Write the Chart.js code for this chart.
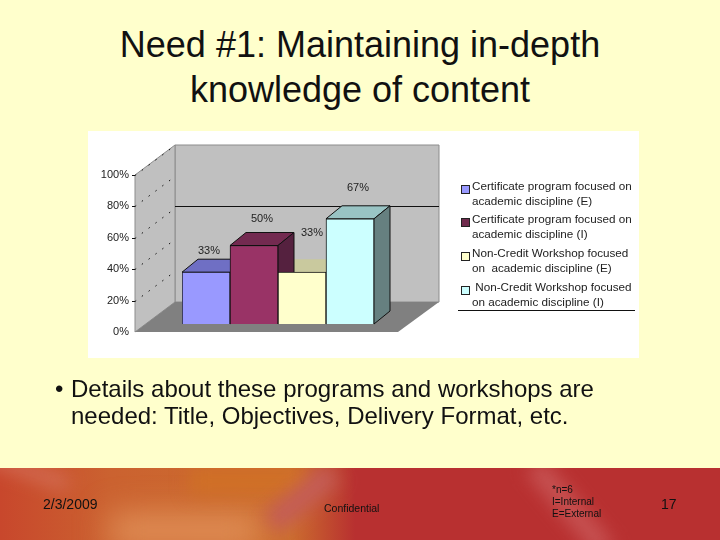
<!DOCTYPE html>
<html>
<head>
<meta charset="utf-8">
<script src="https://cdn.jsdelivr.net/npm/chart.js@4"></script>
<style>
    html, body { margin: 0; padding: 0; }
    body { width: 720px; height: 540px; background: #ffffcc; position: relative; overflow: hidden;
           font-family: "Liberation Sans", Arial, sans-serif; color: #111; }
    .abs { position: absolute; white-space: pre; }
    #title { left: 0; width: 720px; top: 23px; text-align: center; font-size: 36px; line-height: 44.5px; }
    #panel { left: 88px; top: 131px; width: 551px; height: 227px; background: #fff; }
    #chart { position: absolute; left: 0; top: 0; }
    .legend-text { font-size: 11.7px; line-height: 15px; color: #222; }
    .swatch { width: 7px; height: 7px; border: 1px solid #222; }
    #legend-rule { left: 458px; top: 310px; width: 177px; height: 1px; background: #111; }
    #bullet-dot { left: 55px; top: 375px; font-size: 24px; line-height: 27px; }
    #bullet { left: 71px; top: 375px; font-size: 24px; line-height: 27px; }
    #footer { left: 0; top: 468px; width: 720px; height: 72px; overflow: hidden;
        background: linear-gradient(90deg, #c8472c 0px, #cb6230 110px, #cc6e2e 290px, #b83030 355px, #b83030 720px); }
    .streak { position: absolute; filter: blur(9px); }
    .foot { font-size: 14px; }
    .small { font-size: 10px; line-height: 12px; }
</style>
</head>
<body>
<div id="footer" class="abs">
    <div class="streak" style="left:-20px;top:-5px;width:90px;height:12px;background:#d4705a;transform:rotate(20deg)"></div>
    <div class="streak" style="filter:blur(16px);left:110px;top:46px;width:150px;height:34px;background:#e09058;"></div>
    <div class="streak" style="left:190px;top:0;width:120px;height:26px;background:#d07026;"></div>
    <div class="streak" style="left:290px;top:-10px;width:24px;height:80px;background:#c45c58;transform:rotate(50deg)"></div>
    <div class="streak" style="left:560px;top:-15px;width:20px;height:110px;background:#c85555;transform:rotate(-40deg)"></div>
</div>
<div id="title" class="abs">Need #1: Maintaining in-depth
knowledge of content</div>
<div id="panel" class="abs"></div>
<canvas id="chart" width="720" height="540"></canvas>
<div id="legend"></div>
<div id="legend-rule" class="abs"></div>
<div id="bullet-dot" class="abs">•</div>
<div id="bullet" class="abs">Details about these programs and workshops are
needed: Title, Objectives, Delivery Format, etc.</div>
<div class="abs foot" style="left:43px;top:496px">2/3/2009</div>
<div class="abs small" style="left:324px;top:502px;font-size:10.5px">Confidential</div>
<div class="abs small" style="left:552px;top:484px">*n=6
I=Internal
E=External</div>
<div class="abs foot" style="left:661px;top:496px">17</div>
<script>
    // Values
    const categories = [''];
    const seriesNames = [
        ['Certificate program focused on', 'academic discipline (E)'],
        ['Certificate program focused on', 'academic discipline (I)'],
        ['Non-Credit Workshop focused', 'on  academic discipline (E)'],
        [' Non-Credit Workshop focused', 'on academic discipline (I)']
    ];
    const seriesValues = [33, 50, 33, 67];
    const yTicks = [0, 20, 40, 60, 80, 100];

    // Styles
    const frontColors = ['#9999ff', '#993366', '#ffffcc', '#ccffff'];
    const topColors = ['#6f6fc4', '#732a50', '#c9c99e', '#99c4c4'];
    const sideColors = ['#5c5c99', '#55213f', '#99997a', '#668080'];
    const labelOffsets = [[3, 21], [8, 27], [10, 39], [8, 31]];
    const DEPTH_X = 16, DEPTH_Y = -13;   // bar depth
    const WALL_X = 40, WALL_Y = -30;     // side wall depth
    const FRONT_DROP = 8;                // wall front edge sits below the bars' base

    const poly = (ctx, pts, fill, stroke) => {
        ctx.beginPath();
        pts.forEach((p, i) => i ? ctx.lineTo(p[0], p[1]) : ctx.moveTo(p[0], p[1]));
        ctx.closePath();
        if (fill) { ctx.fillStyle = fill; ctx.fill(); }
        if (stroke) { ctx.strokeStyle = stroke; ctx.lineWidth = 1; ctx.stroke(); }
    };

    const box3d = {
        id: 'box3d',
        beforeDatasetsDraw(chart) {
            const ctx = chart.ctx;
            const y = chart.scales.y;
            const left = 135, right = 398;
            const y0 = y.getPixelForValue(0) + FRONT_DROP;
            const y100 = y.getPixelForValue(100) + FRONT_DROP;
            ctx.save();
            // back wall, side wall, floor
            poly(ctx, [[left + WALL_X, y100 + WALL_Y], [right + 41, y100 + WALL_Y], [right + 41, y0 + WALL_Y], [left + WALL_X, y0 + WALL_Y]], '#c0c0c0', '#8c8c8c');
            poly(ctx, [[left, y100], [left + WALL_X, y100 + WALL_Y], [left + WALL_X, y0 + WALL_Y], [left, y0]], '#c0c0c0', '#8c8c8c');
            poly(ctx, [[left, y0], [left + WALL_X, y0 + WALL_Y], [right + 41, y0 + WALL_Y], [right, y0]], '#808080');

            yTicks.slice(1).forEach(t => {
                const py = Math.round(y.getPixelForValue(t) + FRONT_DROP) + 0.5;
                ctx.strokeStyle = '#111';
                ctx.lineWidth = 1;
                ctx.setLineDash([1.5, 7]);
                ctx.beginPath();
                ctx.moveTo(left, py);
                ctx.lineTo(left + WALL_X, py + WALL_Y);
                ctx.stroke();
                ctx.setLineDash([]);
                ctx.beginPath();
                ctx.moveTo(left - 3, py);
                ctx.lineTo(left, py);
                ctx.stroke();
            });
            // the one solid line on the back wall
            const lineY = Math.round(y.getPixelForValue(80) + FRONT_DROP) + 0.5;
            ctx.strokeStyle = '#111';
            ctx.beginPath();
            ctx.moveTo(left + WALL_X, lineY);
            ctx.lineTo(right + 41, lineY);
            ctx.stroke();

            // depth faces: all tops first, then all sides, fronts come from Chart.js
            const bars = chart.data.datasets.map((_, i) => chart.getDatasetMeta(i).data[0]);
            bars.forEach((b, i) => {
                const l = b.x - b.width / 2, r = b.x + b.width / 2;
                poly(ctx, [[l, b.y], [l + DEPTH_X, b.y + DEPTH_Y], [r + DEPTH_X, b.y + DEPTH_Y], [r, b.y]], topColors[i], i === 2 ? null : '#111');
            });
            bars.forEach((b, i) => {
                const r = b.x + b.width / 2;
                poly(ctx, [[r, b.y], [r + DEPTH_X, b.y + DEPTH_Y], [r + DEPTH_X, b.base + DEPTH_Y], [r, b.base]], sideColors[i], '#111');
            });
            ctx.restore();
        },
        afterDatasetsDraw(chart) {
            const ctx = chart.ctx;
            ctx.save();
            ctx.font = '11px "Liberation Sans", Arial, sans-serif';
            ctx.fillStyle = '#222';
            ctx.textAlign = 'center';
            ctx.textBaseline = 'middle';
            chart.data.datasets.forEach((ds, i) => {
                const b = chart.getDatasetMeta(i).data[0];
                ctx.fillText(ds.data[0] + '%', b.x + labelOffsets[i][0], b.y - labelOffsets[i][1]);
            });
            ctx.restore();
        }
    };

    new Chart(document.getElementById('chart').getContext('2d'), {
        type: 'bar',
        data: {
            labels: categories,
            datasets: seriesNames.map((name, i) => ({
                label: name.join(' '),
                data: [seriesValues[i]],
                backgroundColor: frontColors[i],
                borderColor: '#111',
                borderWidth: 1,
                barPercentage: 1,
                categoryPercentage: 1
            }))
        },
        options: {
            responsive: false,
            animation: false,
            layout: { padding: { top: 167, bottom: 216, left: 0, right: 346 } },
            plugins: { legend: { display: false }, tooltip: { enabled: false } },
            scales: {
                x: { display: false },
                y: {
                    min: 0,
                    max: 100,
                    afterFit: (scale) => { scale.width = 182; },
                    afterBuildTicks: (scale) => { scale.ticks = yTicks.map(v => ({ value: v })); },
                    grid: { display: false, drawTicks: false },
                    border: { display: false },
                    ticks: {
                        padding: 53,
                        labelOffset: FRONT_DROP,
                        color: '#222',
                        font: { family: '"Liberation Sans", Arial, sans-serif', size: 11 },
                        callback: (v) => v + '%'
                    }
                }
            }
        },
        plugins: [box3d]
    });

    // Legend
    const legendEl = document.getElementById('legend');
    const legendTops = [178, 211, 245, 279];
    seriesNames.forEach((name, i) => {
        const sw = document.createElement('div');
        sw.className = 'abs swatch';
        sw.style.cssText = `left:461px;top:${legendTops[i] + 7}px;background:${i === 1 ? '#6f2a4c' : frontColors[i]}`;
        legendEl.appendChild(sw);
        const txt = document.createElement('div');
        txt.className = 'abs legend-text';
        txt.style.cssText = `left:472px;top:${legendTops[i]}px`;
        txt.textContent = name.join('\n');
        legendEl.appendChild(txt);
    });
</script>
</body>
</html>
